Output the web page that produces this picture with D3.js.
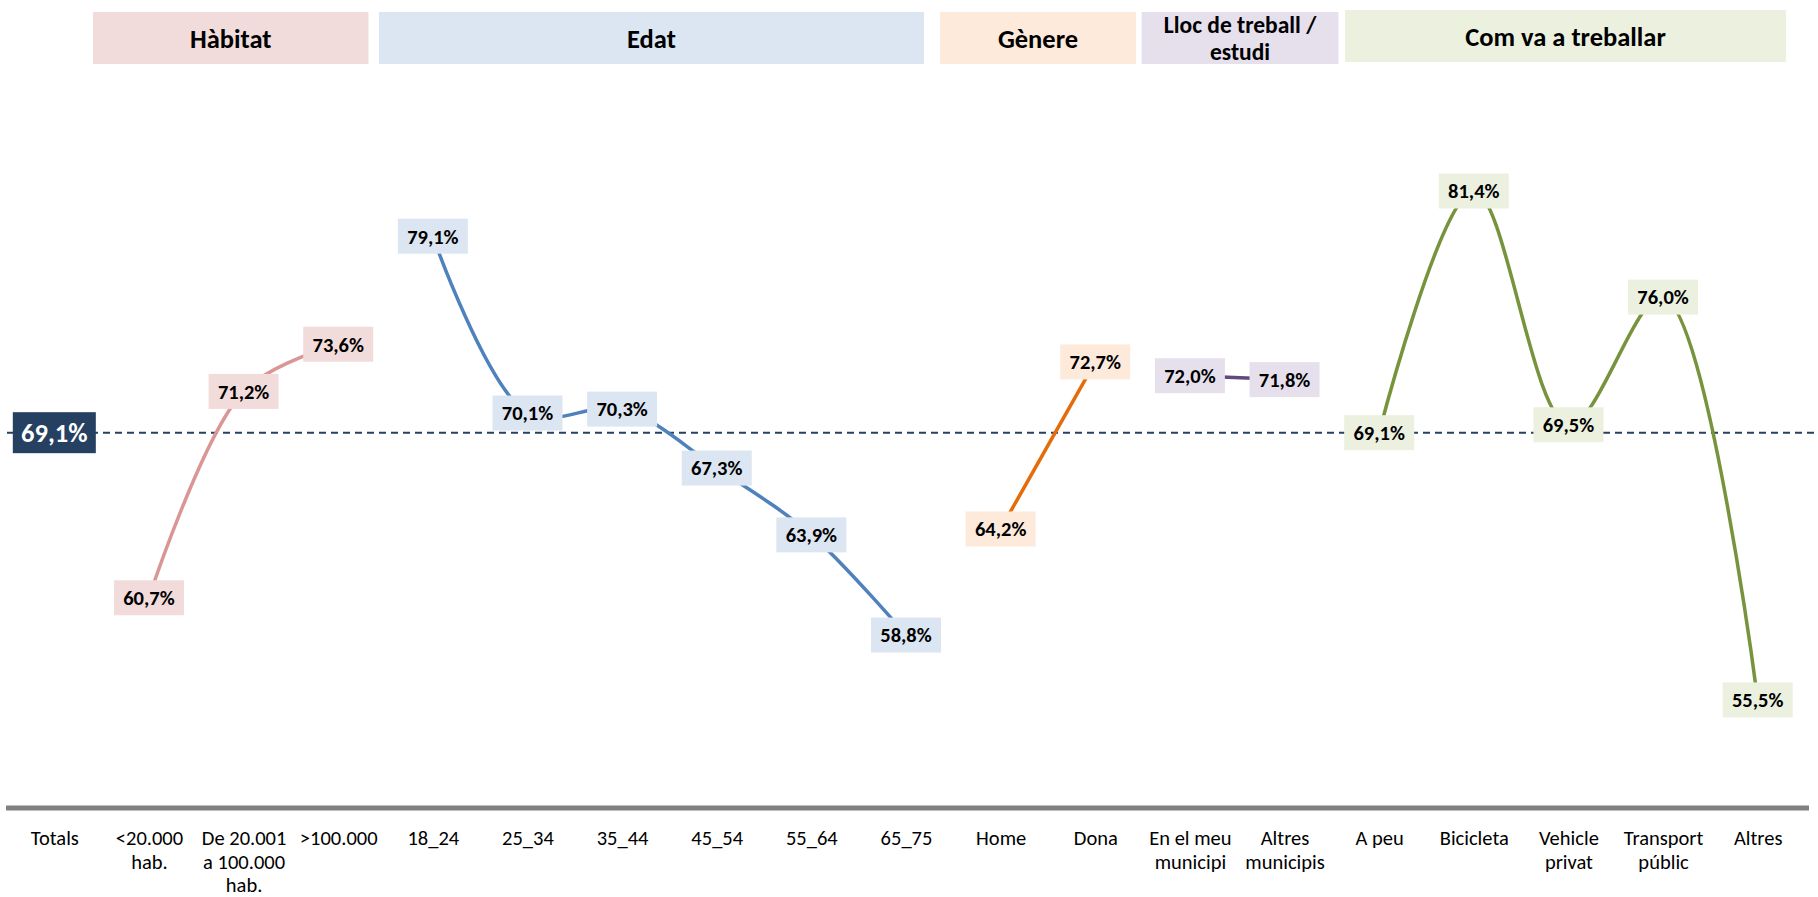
<!DOCTYPE html>
<html><head><meta charset="utf-8">
<script src="https://cdn.jsdelivr.net/npm/d3@7"></script>
<style>body{margin:0;background:#fff} svg{display:block}</style>
</head><body><svg id="c" width="1818" height="897"></svg>
<script>
// ---- data ----
const categories = ["Totals","<20.000 hab.","De 20.001 a 100.000 hab.",">100.000","18_24","25_34","35_44","45_54","55_64","65_75","Home","Dona","En el meu municipi","Altres municipis","A peu","Bicicleta","Vehicle privat","Transport públic","Altres"];
const tickLabels = [["Totals"],["<20.000","hab."],["De 20.001","a 100.000","hab."],[">100.000"],["18_24"],["25_34"],["35_44"],["45_54"],["55_64"],["65_75"],["Home"],["Dona"],["En el meu","municipi"],["Altres","municipis"],["A peu"],["Bicicleta"],["Vehicle","privat"],["Transport","públic"],["Altres"]];
const groupHeaders = [["Hàbitat"],["Edat"],["Gènere"],["Lloc de treball /","estudi"],["Com va a treballar"]];
const groupStart = [1,4,10,12,14];
const habitatValues = [60.7,71.2,73.6];
const edatValues = [79.1,70.1,70.3,67.3,63.9,58.8];
const genereValues = [64.2,72.7];
const llocValues = [72.0,71.8];
const transportValues = [69.1,81.4,69.5,76.0,55.5];
const totalValue = 69.1;
const groupValues = [habitatValues, edatValues, genereValues, llocValues, transportValues];
// header band extents in category units
const headerSpan = [[0.41,3.32],[3.43,9.19],[9.36,11.43],[11.49,13.57],[13.64,18.30]];
const lineColors = ["#D99694","#4F81BD","#E46C0A","#604A7B","#77933C"];
const fillColors = ["#F2DCDB","#DCE6F2","#FDEADA","#E5E0EC","#EBF1DE"];
const totalColor = "#254061";

// ---- scales ----
const W = 1818, H = 897;
const svg = d3.select("#c");
const x = d3.scalePoint().domain(categories).range([7, 1805]).padding(0.5);
const y = d3.scaleLinear().domain([50, 90]).range([808, 22]);
const catPos = d3.scaleLinear().domain([0, categories.length - 1]).range([x(categories[0]), x(categories[categories.length-1])]);
const fmt = v => d3.format(".1f")(v).replace(".", ",") + "%";
const FONT = "Carlito, Calibri, Lato, sans-serif";

// header boxes
groupHeaders.forEach((lines, g) => {
  const x0 = catPos(headerSpan[g][0]), x1 = catPos(headerSpan[g][1]);
  const top = g === 4 ? 10 : 12;
  svg.append("rect").attr("x", x0).attr("y", top).attr("width", x1 - x0).attr("height", 52).attr("fill", fillColors[g]);
  const multi = lines.length > 1;
  const fs = multi ? 23.5 : 26.5;
  const lh = 26.5;
  const t = svg.append("text").attr("x", (x0 + x1) / 2).attr("text-anchor", "middle")
    .attr("font-family", FONT).attr("font-weight", "bold").attr("font-size", fs).attr("fill", "#000");
  lines.forEach((l, i) => {
    t.append("tspan").attr("x", (x0 + x1) / 2)
      .attr("y", top + 26.5 + (i - (lines.length - 1) / 2) * lh).attr("dy", "0.35em").text(l);
  });
});

// reference dashed line
svg.append("line").attr("x1", x.range()[0]).attr("x2", W).attr("y1", y(totalValue)).attr("y2", y(totalValue))
  .attr("stroke", totalColor).attr("stroke-width", 2).attr("stroke-dasharray", "7,5");

// series lines
const line = d3.line().x(d => d.x).y(d => d.y).curve(d3.curveCatmullRom.alpha(0.5));
groupValues.forEach((vals, g) => {
  const pts = vals.map((v, i) => ({x: x(categories[groupStart[g] + i]), y: y(v)}));
  svg.append("path").attr("d", line(pts)).attr("fill", "none")
    .attr("stroke", lineColors[g]).attr("stroke-width", 3.5).attr("stroke-linecap", "round");
});

// data labels
groupValues.forEach((vals, g) => {
  vals.forEach((v, i) => {
    const cx = x(categories[groupStart[g] + i]), cy = y(v);
    const bw = 70, bh = 35;
    svg.append("rect").attr("x", cx - bw/2).attr("y", cy - bh/2).attr("width", bw).attr("height", bh).attr("fill", fillColors[g]);
    svg.append("text").attr("x", cx).attr("y", cy).attr("dy", "0.36em").attr("text-anchor", "middle")
      .attr("font-family", FONT).attr("font-weight", "bold").attr("font-size", 20.5).attr("fill", "#000").text(fmt(v));
  });
});

// totals label
{
  const cx = x(categories[0]), cy = y(totalValue), bw = 83, bh = 41;
  svg.append("rect").attr("x", cx - bw/2).attr("y", cy - bh/2).attr("width", bw).attr("height", bh).attr("fill", totalColor);
  svg.append("text").attr("x", cx).attr("y", cy).attr("dy", "0.36em").attr("text-anchor", "middle")
    .attr("font-family", FONT).attr("font-weight", "bold").attr("font-size", 26.5).attr("fill", "#fff").text(fmt(totalValue));
}

// axis
const axisY = y(50);
const axis = svg.append("g").attr("transform", `translate(0,${axisY})`)
  .call(d3.axisBottom(x).tickSize(0).tickFormat(""));
axis.select(".domain").attr("d", `M6,0H1809`).attr("stroke", "#808080").attr("stroke-width", 5);
axis.selectAll(".tick text").remove();
axis.selectAll(".tick").each(function(d, i) {
  const t = d3.select(this).append("text").attr("text-anchor", "middle")
    .attr("font-family", FONT).attr("font-size", 20.5).attr("fill", "#000");
  tickLabels[i].forEach((l, j) => {
    t.append("tspan").attr("x", 0).attr("y", 30 + j * 23.5).attr("dy", "0.35em").text(l);
  });
});
</script>
</body></html>
